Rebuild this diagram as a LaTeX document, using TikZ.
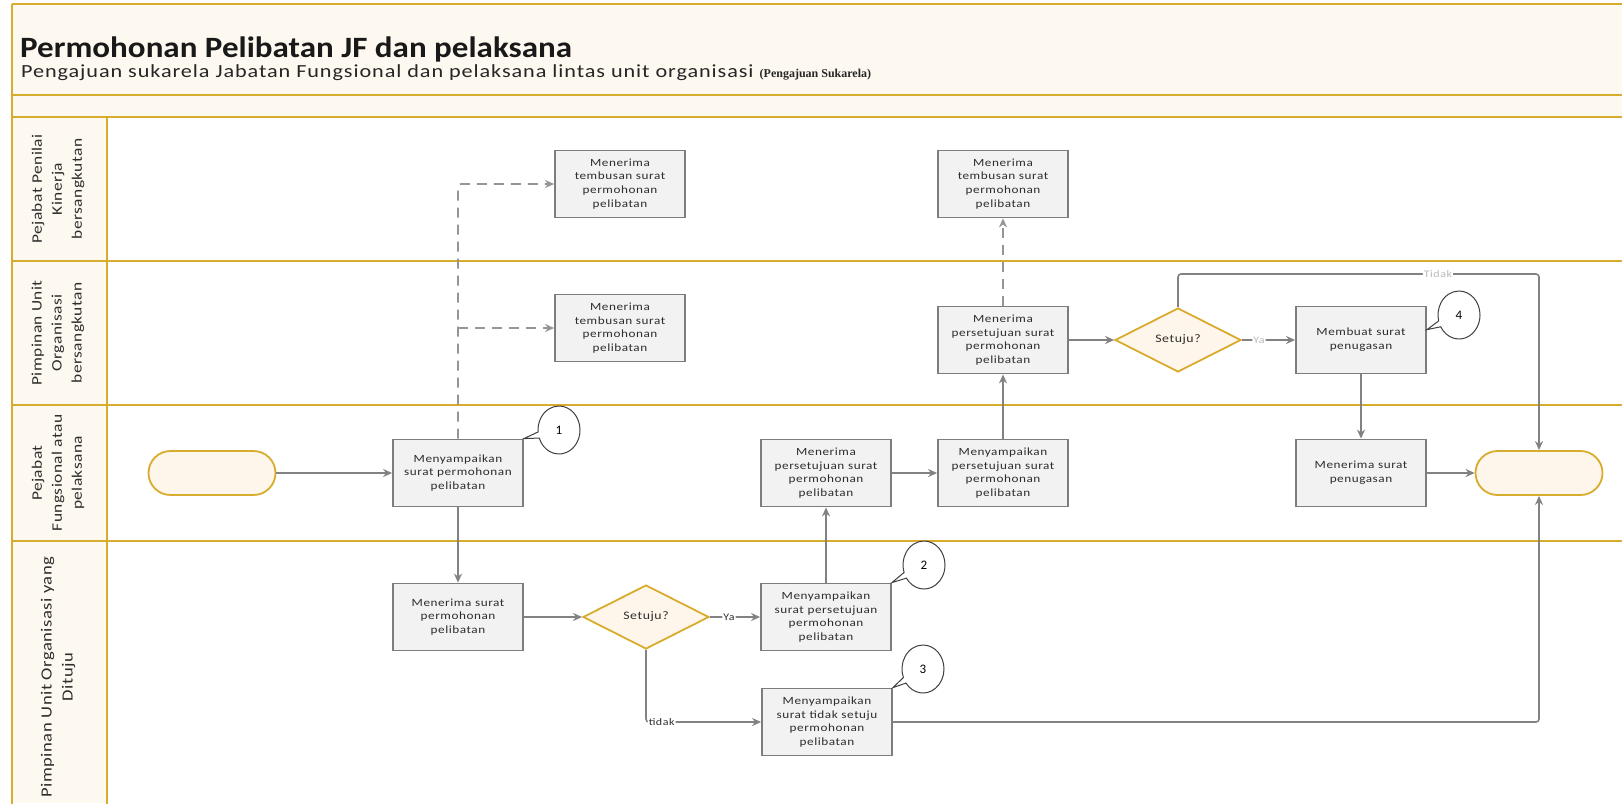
\documentclass[tikz,border=0pt]{standalone}
\usepackage{fontspec}
\setmainfont{Carlito}
\newfontfamily\notefont{Liberation Serif}
\newfontfamily\titlefont[FakeStretch=1.12]{Carlito}
\newfontfamily\widefont[FakeStretch=1.2,LetterSpace=5]{Carlito}
\newfontfamily\lanefont[FakeStretch=1.2,LetterSpace=3]{Carlito}
\usetikzlibrary{shapes.geometric,shapes.callouts,arrows.meta,calc}

\definecolor{gold}{RGB}{216,172,44}
\definecolor{cream}{RGB}{254,249,240}
\definecolor{boxfill}{RGB}{242,242,242}
\definecolor{boxline}{RGB}{125,125,125}
\definecolor{flow}{RGB}{130,130,130}
\definecolor{txt}{RGB}{45,45,45}
\definecolor{dfill}{RGB}{254,246,234}
\definecolor{faint}{RGB}{185,185,185}

\tikzset{
  lane/.style={draw=gold, line width=2.4pt},
  proc/.style={rectangle, draw=boxline, fill=boxfill, line width=1.8pt,
    minimum width=130pt, minimum height=67pt, text width=126pt, inner sep=0pt,
    align=center, text=txt, font=\widefont\fontsize{11}{13.8}\selectfont},
  dec/.style={diamond, aspect=2, draw=gold, fill=dfill, line width=1.8pt,
    minimum width=126pt, minimum height=64pt, inner sep=0pt,
    text=txt, font=\widefont\fontsize{11.5}{13}\selectfont},
  term/.style={rectangle, rounded corners=22pt, draw=gold, fill=dfill,
    line width=1.8pt, minimum width=127pt, minimum height=44pt},
  arr/.style={draw=flow, line width=1.6pt, rounded corners=3pt,
    -{Stealth[length=9pt,width=8pt]}},
  darr/.style={arr, draw=flow!85, dash pattern=on 10pt off 7pt},
  lbl/.style={fill=white, inner sep=1pt, text=txt, font=\widefont\fontsize{10}{12}\selectfont},
  lblfaint/.style={lbl, text=faint},
  note/.style={ellipse callout, draw=black!75, fill=white, line width=1pt,
    minimum width=42pt, minimum height=48pt, inner sep=0pt,
    font=\fontsize{13}{15}\selectfont},
  lanelabel/.style={rotate=90, align=center, text=txt,
    font=\lanefont\fontsize{14.5}{20}\selectfont},
}

\begin{document}
\begin{tikzpicture}[x=1pt,y=-1pt]
\useasboundingbox (0,0) rectangle (1622,803);
\clip (0,0) rectangle (1622,803);

% pool header and lane label column
\fill[white] (0,0) rectangle (1622,803);
\fill[cream] (12,4) rectangle (1622,117);
\fill[cream] (12,117) rectangle (107,803);
\draw[lane] (12,4) -- (1630,4);
\draw[lane] (12,95) -- (1630,95);
\draw[lane] (12,117) -- (1630,117);
\draw[lane] (12,261) -- (1630,261);
\draw[lane] (12,405) -- (1630,405);
\draw[lane] (12,541) -- (1630,541);
\draw[lane] (12,4) -- (12,810);
\draw[lane] (107,117) -- (107,810);

% title
\node[anchor=base west, inner sep=0pt, text=black!90,
  font=\titlefont\bfseries\fontsize{29.5}{34}\selectfont] (title) at (20,57)
  {Permohonan Pelibatan JF dan pelaksana};
\node[anchor=base west, inner sep=0pt, text=black!85,
  font=\widefont\fontsize{18.5}{22}\selectfont] (subtitle) at (21,77)
  {Pengajuan sukarela Jabatan Fungsional dan pelaksana lintas unit organisasi
   {\notefont\bfseries\fontsize{12}{14}\selectfont(Pengajuan Sukarela)}};

% lane labels
\node[lanelabel] (l1) at (58,189) {Pejabat Penilai\\Kinerja\\bersangkutan};
\node[lanelabel] (l2) at (58,333) {Pimpinan Unit\\Organisasi\\bersangkutan};
\node[lanelabel] (l3) at (58,473) {Pejabat\\Fungsional atau\\pelaksana};
\node[lanelabel, font=\lanefont\fontsize{15.5}{21}\selectfont] (l4) at (58,677)
  {Pimpinan Unit Organisasi yang\\Dituju};

% process steps
\node[term] (start) at (212,473) {};
\node[proc] (b1) at (458,473) {Menyampaikan\\surat permohonan\\pelibatan};
\node[proc] (t1) at (620,184) {Menerima\\tembusan surat\\permohonan\\pelibatan};
\node[proc] (t2) at (620,328) {Menerima\\tembusan surat\\permohonan\\pelibatan};
\node[proc] (r1) at (458,617) {Menerima surat\\permohonan\\pelibatan};
\node[dec]  (d1) at (646,617) {Setuju?};
\node[proc] (s2) at (826,617) {Menyampaikan\\surat persetujuan\\permohonan\\pelibatan};
\node[proc] (s3) at (827,722) {Menyampaikan\\surat tidak setuju\\permohonan\\pelibatan};
\node[proc] (a1) at (826,473) {Menerima\\persetujuan surat\\permohonan\\pelibatan};
\node[proc] (a2) at (1003,473) {Menyampaikan\\persetujuan surat\\permohonan\\pelibatan};
\node[proc] (a3) at (1003,340) {Menerima\\persetujuan surat\\permohonan\\pelibatan};
\node[proc] (t3) at (1003,184) {Menerima\\tembusan surat\\permohonan\\pelibatan};
\node[dec]  (d2) at (1178,340) {Setuju?};
\node[proc] (m1) at (1361,340) {Membuat surat\\penugasan};
\node[proc] (m2) at (1361,473) {Menerima surat\\penugasan};
\node[term] (end) at (1539,473) {};

% connectors
\draw[arr] (start) -- (b1);
\draw[arr] (b1) -- (r1);
\draw[darr] (b1.north) |- (t1.west);
\draw[darr] (b1.north |- t2.west) -- (t2.west);
\draw[arr] (r1) -- (d1);
\draw[arr] (d1) -- node[lbl, pos=0.38] {Ya} (s2);
\draw[arr] (d1.south) |- node[lbl, pos=0.5, anchor=west, xshift=1pt] {tidak} (s3.west);
\draw[arr] (s2) -- (a1);
\draw[arr] (a1) -- (a2);
\draw[arr] (a2) -- (a3);
\draw[darr] (a3) -- (t3);
\draw[arr] (a3) -- (d2);
\draw[arr] (d2) -- node[lblfaint, pos=0.32] {Ya} (m1);
\coordinate (tk) at (1178,274);
\draw[arr] (d2.north) -- (tk) -| node[lblfaint, pos=0.36] {Tidak} (end.north);
\draw[arr] (m1) -- (m2);
\draw[arr] (m2) -- (end);
\draw[arr] (s3.east) -| (end.south);

% step callouts
\node[note, callout absolute pointer={(b1.north east)}] (n1) at (559,430) {1};
\node[note, callout absolute pointer={(s2.north east)}] (n2) at (924,565) {2};
\node[note, callout absolute pointer={(s3.north east)}] (n3) at (923,669) {3};
\node[note, callout absolute pointer={($(m1.north east)!0.35!(m1.south east)$)}] (n4) at (1459,315) {4};
\end{tikzpicture}
\end{document}
